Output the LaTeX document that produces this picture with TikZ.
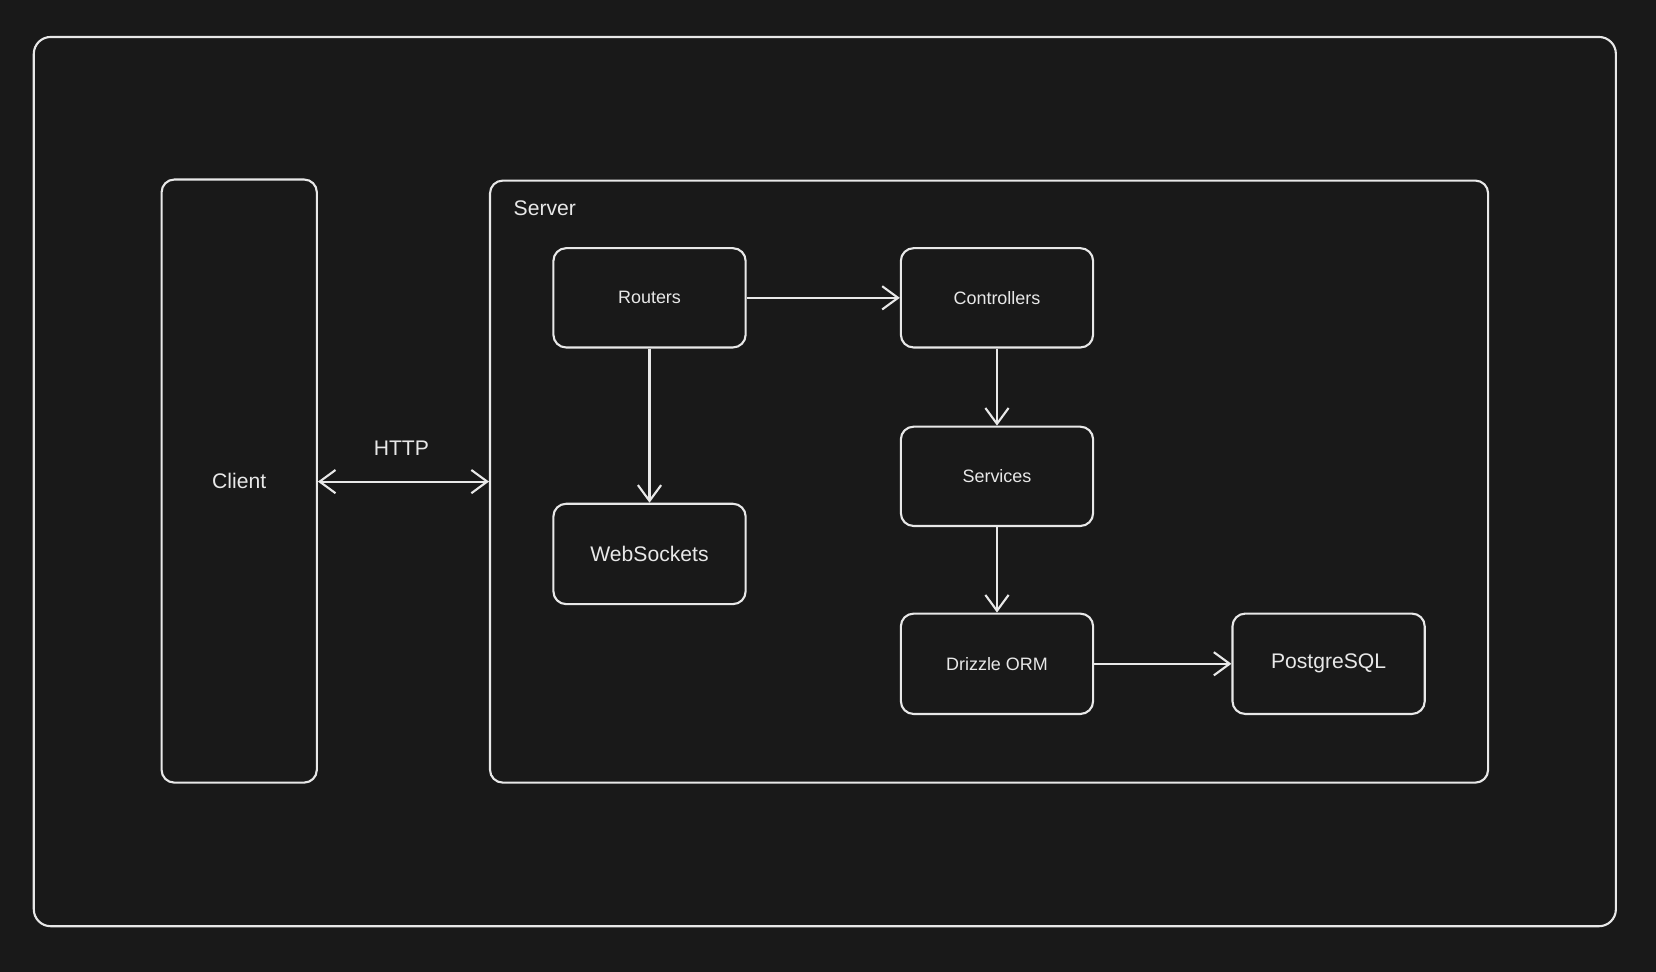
\documentclass[tikz,border=0pt]{standalone}
\usepackage{fontspec}
\setmainfont{Liberation Sans}
\usetikzlibrary{arrows.meta}
\definecolor{bg}{HTML}{191919}
\definecolor{ink}{HTML}{E8E8E8}
\tikzset{
  box/.style={draw=ink, line width=1pt, rounded corners=6pt, text=ink},
  lbl/.style={text=ink, inner sep=0pt},
  conn/.style={draw=ink, line width=1pt, -{Straight Barb[length=7.5pt,width=11pt,line width=1pt]}},
}
\begin{document}
\begin{tikzpicture}[x=0.5pt,y=-0.5pt]
\fill[bg] (0,0) rectangle (1568,920);
\useasboundingbox (0,0) rectangle (1568,920);
\draw[box, rounded corners=8pt] (32,35) rectangle (1530,877);
\node[box, minimum width=73.5pt, minimum height=285.5pt, font=\fontsize{10}{12}\selectfont] (client) at (226.5,455.5) {Client};
\node[box, minimum width=472.5pt, minimum height=285pt] (server) at (936.5,456) {};
\node[lbl, anchor=west, font=\fontsize{10}{12}\selectfont] (slabel) at (486,197) {Server};
\node[box, minimum width=91pt, minimum height=47pt, font=\fontsize{8.5}{10}\selectfont] (routers) at (615,282) {Routers};
\node[box, minimum width=91pt, minimum height=47pt, font=\fontsize{8.5}{10}\selectfont] (ctrl) at (944,282) {Controllers};
\node[box, minimum width=91pt, minimum height=47pt, font=\fontsize{8.5}{10}\selectfont] (svc) at (944,451) {Services};
\node[box, minimum width=91pt, minimum height=47.5pt, font=\fontsize{10}{12}\selectfont] (ws) at (615,524.5) {WebSockets};
\node[box, minimum width=91pt, minimum height=47.5pt, font=\fontsize{8.5}{10}\selectfont] (orm) at (944,628.5) {Drizzle ORM};
\node[box, minimum width=91pt, minimum height=47.5pt, font=\fontsize{10}{12}\selectfont] (pg) at (1258,628.5) {PostgreSQL};
\node[lbl, font=\fontsize{10}{12}\selectfont] (http) at (380,424) {HTTP};
\draw[conn, {Straight Barb[length=7.5pt,width=11pt,line width=1pt]}-{Straight Barb[length=7.5pt,width=11pt,line width=1pt]}] (client.east |- 0,456) -- (server.west |- 0,456);
\draw[conn] (routers.east) -- (ctrl.west);
\draw[conn] (routers.south) -- (ws.north);
\draw[conn] (ctrl.south) -- (svc.north);
\draw[conn] (svc.south) -- (orm.north);
\draw[conn] (orm.east) -- (pg.west);
\end{tikzpicture}
\end{document}
